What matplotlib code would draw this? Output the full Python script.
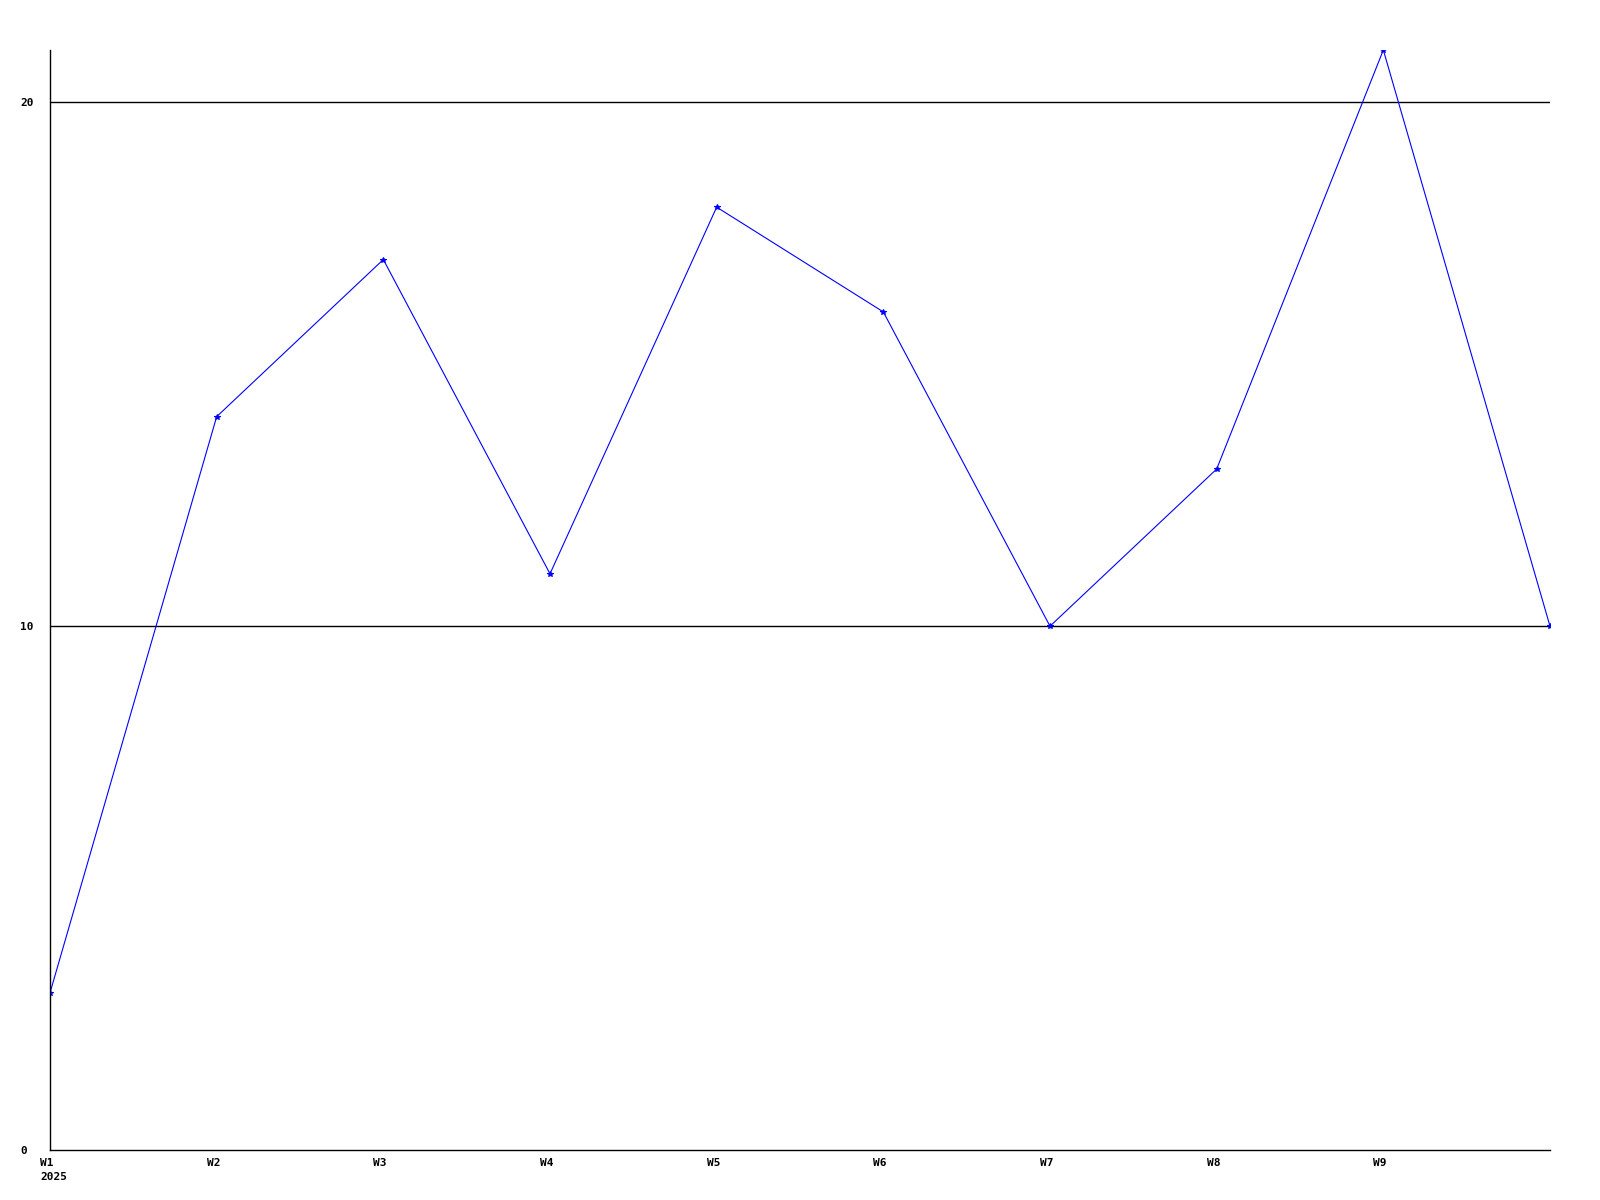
import matplotlib
matplotlib.use("Agg")
import matplotlib.pyplot as plt
from matplotlib.transforms import ScaledTranslation

weeks = ["W1", "W2", "W3", "W4", "W5", "W6", "W7", "W8", "W9", "W10"]
values = [3, 14, 17, 11, 18, 16, 10, 13, 21, 10]
tick_labels = ["W1\n2025", "W2", "W3", "W4", "W5", "W6", "W7", "W8", "W9", ""]
y_ticks = [0, 10, 20]

plt.rcParams['font.family'] = ['DejaVu Sans Mono']
plt.rcParams['font.weight'] = 'bold'

fig = plt.figure(figsize=(16, 12), dpi=100)
ax = fig.add_axes([50/1600, 50/1200, 1500/1600, 1100/1200])
x = list(range(len(weeks)))
ax.plot(x, values, color='#0000ff', linewidth=0.8, marker='*', markersize=4,
        markeredgewidth=0.8)
ax.set_xlim(0, len(weeks) - 1)
ax.set_ylim(0, max(values))
ax.set_yticks(y_ticks)
ax.set_yticklabels([str(v) for v in y_ticks], fontsize=8, fontweight='bold',
                   ha='left')
ax.set_xticks(x)
ax.set_xticklabels(tick_labels, fontsize=8, fontweight='bold', ha='left',
                   va='top', linespacing=1.4)
ax.tick_params(axis='both', length=0)
ax.tick_params(axis='y', pad=21.6)
ax.tick_params(axis='x', pad=6)
off = ScaledTranslation(-10/100, 0, fig.dpi_scale_trans)
for lab in ax.get_xticklabels():
    lab.set_transform(lab.get_transform() + off)
for v in y_ticks[1:]:
    ax.axhline(v, color='black', linewidth=1, zorder=0)
for s in ['top', 'right']:
    ax.spines[s].set_visible(False)
ax.spines['left'].set_linewidth(1)
ax.spines['bottom'].set_linewidth(1)
fig.savefig("out.png", dpi=100)
